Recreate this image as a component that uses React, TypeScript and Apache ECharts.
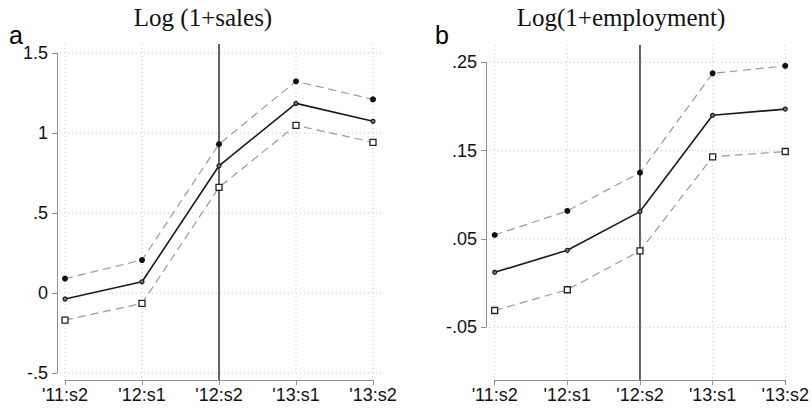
import React, { useEffect, useRef } from "react";
import * as echarts from "echarts";

const categories = ["'11:s2", "'12:s1", "'12:s2", "'13:s1", "'13:s2"];
const eventIndex = 2;

const salesUpper = [0.09, 0.206, 0.93, 1.323, 1.21];
const salesMid = [-0.0375, 0.07, 0.795, 1.185, 1.073];
const salesLower = [-0.169, -0.065, 0.66, 1.048, 0.942];
const salesTicks = [-0.5, 0, 0.5, 1, 1.5];

const empUpper = [0.0545, 0.0817, 0.125, 0.2375, 0.246];
const empMid = [0.0122, 0.0372, 0.081, 0.19, 0.197];
const empLower = [-0.031, -0.0075, 0.0365, 0.143, 0.149];
const empTicks = [-0.05, 0.05, 0.15, 0.25];

const titles = ["Log (1+sales)", "Log(1+employment)"];
const panelLetters = ["a", "b"];

const fmt = (v: number) => {
  const s = String(Math.round(v * 1000) / 1000);
  return s.replace(/^(-?)0\./, "$1.");
};

const AXIS_GRAY = "#8f8f8f";
const GRID_GRAY = "#c8c8c8";
const DASH_GRAY = "#9a9a9a";

export default function App() {
  const ref = useRef<HTMLDivElement>(null);
  useEffect(() => {
    if (!ref.current) return;
    const chart = echarts.init(ref.current, null, { renderer: "svg" });

    const panels = [
      {
        grid: { left: 65, right: 439, top: 53, bottom: 36 },
        min: -0.5, max: 1.5, ticks: salesTicks,
        upper: salesUpper, mid: salesMid, lower: salesLower,
        extTop: 9, xOff: 7, yOff: 8, extRight: 10,
      },
      {
        grid: { left: 494.7, right: 20.3, top: 62.3, bottom: 81.7 },
        min: -0.05, max: 0.25, ticks: empTicks,
        upper: empUpper, mid: empMid, lower: empLower,
        extTop: 17.3, xOff: 52.7, yOff: 8.7, extRight: 7,
      },
    ];

    const grids: any[] = [];
    const xAxes: any[] = [];
    const yAxes: any[] = [];
    const series: any[] = [];

    panels.forEach((p, k) => {
      grids.push(p.grid);
      xAxes.push({
        type: "category", gridIndex: k, data: categories, boundaryGap: false,
        offset: p.xOff,
        axisLine: { onZero: false, lineStyle: { color: AXIS_GRAY, width: 1 } },
        axisTick: { length: 5, lineStyle: { color: AXIS_GRAY } },
        axisLabel: { color: "#111", fontSize: 18, fontFamily: "Liberation Sans", margin: 6, interval: 0 },
        splitLine: { show: false },
      });
      yAxes.push({
        type: "value", gridIndex: k, min: p.min, max: p.max,
        offset: p.yOff,
        axisLine: { show: true, onZero: false, lineStyle: { color: AXIS_GRAY, width: 1 } },
        axisTick: { show: true, length: 5, lineStyle: { color: AXIS_GRAY }, customValues: p.ticks },
        axisLabel: { color: "#111", fontSize: 18, fontFamily: "Liberation Sans", margin: 9, formatter: (v: number) => fmt(v), customValues: p.ticks },
        splitLine: { show: false },
      });
      const ext = p;
      series.push({
        type: "custom", xAxisIndex: k, yAxisIndex: k, silent: true, clip: false, z: 1,
        data: categories.map((_, i) => [i, p.min]),
        renderItem: (params: any, api: any) => {
          const cs = params.coordSys;
          const x = api.coord([api.value(0), api.value(1)])[0];
          return {
            type: "line",
            shape: { x1: x, y1: cs.y - ext.extTop, x2: x, y2: cs.y + cs.height + ext.xOff },
            style: { stroke: GRID_GRAY, lineWidth: 1, lineDash: [1, 3] },
          };
        },
      });
      series.push({
        type: "custom", xAxisIndex: k, yAxisIndex: k, silent: true, clip: false, z: 1,
        data: p.ticks.map((t) => [0, t]),
        renderItem: (params: any, api: any) => {
          const cs = params.coordSys;
          const y = api.coord([api.value(0), api.value(1)])[1];
          return {
            type: "line",
            shape: { x1: cs.x - ext.yOff + 3, y1: y, x2: cs.x + cs.width + ext.extRight, y2: y },
            style: { stroke: GRID_GRAY, lineWidth: 1, lineDash: [1, 3] },
          };
        },
      });
      series.push({
        type: "custom", xAxisIndex: k, yAxisIndex: k, silent: true, clip: false, z: 2,
        data: [[eventIndex, p.min]],
        renderItem: (params: any, api: any) => {
          const cs = params.coordSys;
          const x = api.coord([api.value(0), api.value(1)])[0];
          return {
            type: "line",
            shape: { x1: x, y1: cs.y - ext.extTop, x2: x, y2: cs.y + cs.height + ext.xOff },
            style: { stroke: "#333", lineWidth: 1.5 },
          };
        },
      });
      series.push({
        type: "line", xAxisIndex: k, yAxisIndex: k, data: p.upper, z: 3,
        symbol: "circle", symbolSize: 6, showAllSymbol: true,
        lineStyle: { color: DASH_GRAY, width: 1.2, type: [8, 5] },
        itemStyle: { color: "#111", borderWidth: 0 },
      });
      series.push({
        type: "line", xAxisIndex: k, yAxisIndex: k, data: p.lower, z: 3,
        symbol: "rect", symbolSize: 6, showAllSymbol: true,
        lineStyle: { color: DASH_GRAY, width: 1.2, type: [8, 5] },
        itemStyle: { color: "#fff", borderColor: "#222", borderWidth: 1.3 },
      });
      series.push({
        type: "line", xAxisIndex: k, yAxisIndex: k, data: p.mid, z: 4,
        symbol: "circle", symbolSize: 4, showAllSymbol: true,
        lineStyle: { color: "#1a1a1a", width: 1.6 },
        itemStyle: { color: "#777", borderColor: "#1a1a1a", borderWidth: 1.2 },
      });
    });

    chart.setOption({
      animation: false,
      backgroundColor: "#fff",
      title: [
        { text: titles[0], left: 198, textAlign: "center", top: 0, textStyle: { fontFamily: "Liberation Serif", fontWeight: "normal", fontSize: 25, color: "#111" } },
        { text: titles[1], left: 616, textAlign: "center", top: 0, textStyle: { fontFamily: "Liberation Serif", fontWeight: "normal", fontSize: 25, color: "#111" } },
        { text: panelLetters[0], left: 4, top: 17, textStyle: { fontFamily: "Liberation Sans", fontWeight: "normal", fontSize: 25, color: "#000" } },
        { text: panelLetters[1], left: 430, top: 17, textStyle: { fontFamily: "Liberation Sans", fontWeight: "normal", fontSize: 25, color: "#000" } },
      ],
      grid: grids,
      xAxis: xAxes,
      yAxis: yAxes,
      series,
    });
    return () => chart.dispose();
  }, []);
  return <div ref={ref} style={{ width: 812, height: 409, position: "absolute", left: 0, top: 0 }} />;
}
